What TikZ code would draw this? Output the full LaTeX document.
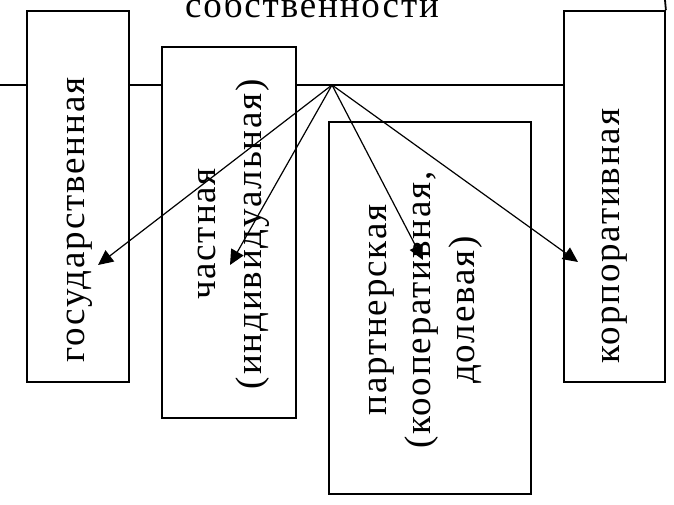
\documentclass[tikz,border=0pt]{standalone}
\usepackage{fontspec}
\setmainfont{Liberation Serif}
\newfontfamily\spacedserif[LetterSpace=5]{Liberation Serif}
\usetikzlibrary{arrows.meta}
\begin{document}
\begin{tikzpicture}[x=1pt,y=-1pt,
  box/.style={draw, line width=1.8pt, inner sep=0pt, fill=none},
  lbl/.style={rotate=90, align=center, inner sep=0pt, font=\spacedserif\fontsize{37}{46}\selectfont},
  conn/.style={line width=1.8pt},
  arr/.style={line width=1.2pt, -{Triangle[length=15pt,width=14pt]}}]
\useasboundingbox (0,0) rectangle (674,505);
% boxes
\node[box, minimum width=102pt, minimum height=371pt] (gov) at (78,196.5) {};
\node[box, minimum width=134pt, minimum height=371pt] (priv) at (229,232.5) {};
\node[box, minimum width=202pt, minimum height=372pt] (part) at (430,308) {};
\node[box, minimum width=101pt, minimum height=371pt] (corp) at (614.5,196.5) {};
% labels
\node[lbl] (govt) at (80,220) {государственная};
\node[lbl] (privt) at (234,234) {частная\\(индивидуальная)};
\node[lbl, font=\spacedserif\fontsize{37}{44}\selectfont] (partt) at (426,310) {партнерская\\(кооперативная,\\долевая)};
\node[lbl] (corpt) at (615,236) {корпоративная};
\node[anchor=base, inner sep=0pt, font=\spacedserif\fontsize{37}{44}\selectfont] (title) at (312,18) {собственности};
% connectors
\coordinate (hub) at (332,85);
\coordinate (lft) at (0,85);
\coordinate (tr) at (665,0);
\draw[conn] (lft) -- (lft -| gov.west);
\draw[conn] (hub -| gov.east) -- (hub -| priv.west);
\draw[conn] (hub -| priv.east) -- (hub -| corp.west);
\draw[conn] (tr) -- (corp.north east);
% arrow targets
\coordinate (tg) at (98,265);
\coordinate (tp) at (230,265);
\coordinate (tpa) at (423,260);
\coordinate (tc) at (578,262);
\draw[arr] (hub) -- (tg);
\draw[arr] (hub) -- (tp);
\draw[arr] (hub) -- (tpa);
\draw[arr] (hub) -- (tc);
\end{tikzpicture}
\end{document}
